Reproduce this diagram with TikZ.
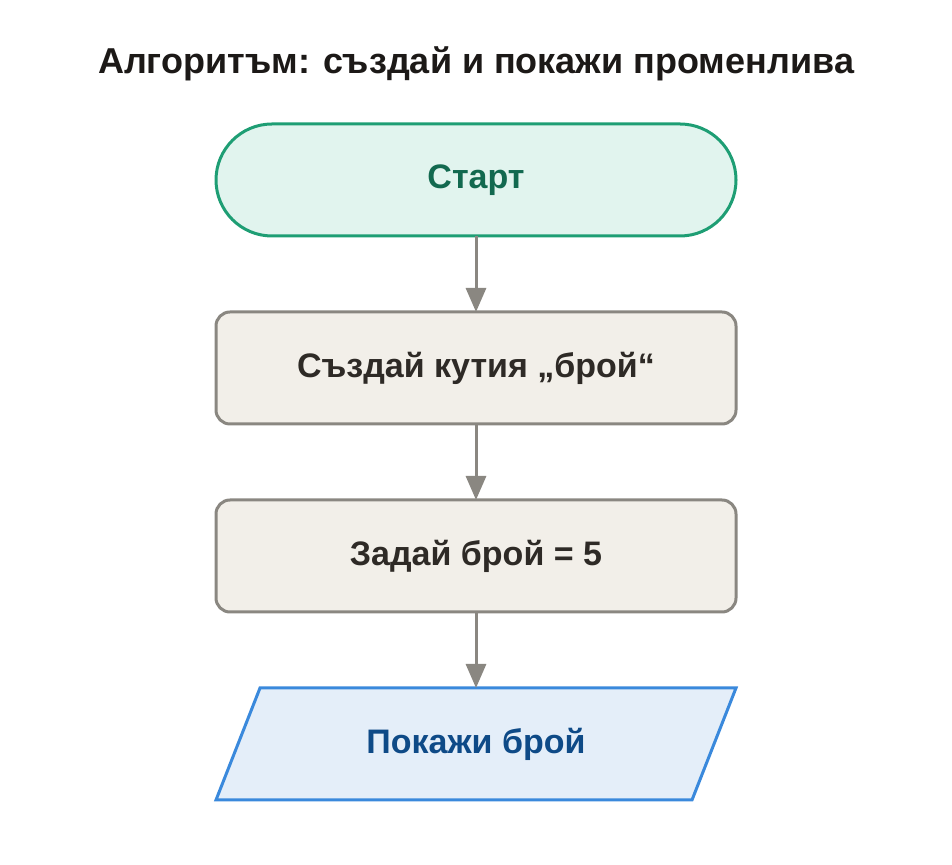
\documentclass[tikz,border=0pt]{standalone}
\usepackage{fontspec}
\setmainfont{Liberation Sans}
\usetikzlibrary{arrows.meta}
\definecolor{gstroke}{HTML}{1E9E74}
\definecolor{gfill}{HTML}{E1F4EE}
\definecolor{gtext}{HTML}{12694F}
\definecolor{pstroke}{HTML}{8A8781}
\definecolor{pfill}{HTML}{F2EFE9}
\definecolor{ptext}{HTML}{2E2A26}
\definecolor{bstroke}{HTML}{3A89DC}
\definecolor{bfill}{HTML}{E4EEF9}
\definecolor{btext}{HTML}{0E4A87}
\begin{document}
\begin{tikzpicture}[x=1pt,y=1pt,
  lbl/.style={font=\bfseries\fontsize{34}{40}\selectfont},
  conn/.style={draw=pstroke,line width=3pt,-{Triangle[length=24pt,width=20pt]}}]
\useasboundingbox (0,0) rectangle (952,864);
\node[font=\bfseries\fontsize{36}{42}\selectfont,text=ptext!60!black] (title) at (476,800) {Алгоритъм: създай и покажи променлива};
\draw[gstroke,fill=gfill,line width=3pt,rounded corners=56pt] (216,628) rectangle (736,740);
\node[lbl,text=gtext] (start) at (476,684) {Старт};
\draw[pstroke,fill=pfill,line width=3pt,rounded corners=14pt] (216,440) rectangle (736,552);
\node[lbl,text=ptext] (create) at (476,496) {Създай кутия „брой“};
\draw[pstroke,fill=pfill,line width=3pt,rounded corners=14pt] (216,252) rectangle (736,364);
\node[lbl,text=ptext] (assign) at (476,308) {Задай брой = 5};
\draw[bstroke,fill=bfill,line width=3pt] (260,176) -- (736,176) -- (692,64) -- (216,64) -- cycle;
\node[lbl,text=btext] (show) at (476,120) {Покажи брой};
\coordinate (a1) at (476,628); \coordinate (b1) at (476,552);
\coordinate (a2) at (476,440); \coordinate (b2) at (476,364);
\coordinate (a3) at (476,252); \coordinate (b3) at (476,176);
\draw[conn] (a1) -- (b1);
\draw[conn] (a2) -- (b2);
\draw[conn] (a3) -- (b3);
\end{tikzpicture}
\end{document}
